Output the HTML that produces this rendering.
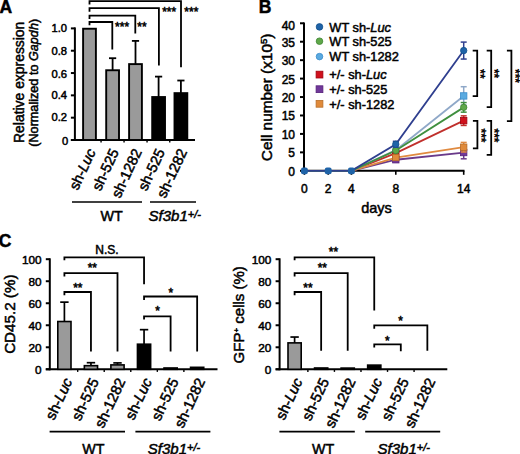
<!DOCTYPE html>
<html><head><meta charset="utf-8"><style>
html,body{margin:0;padding:0;background:#fff;}
svg{display:block;}
text{font-family:"Liberation Sans", sans-serif;fill:#000;stroke:#000;stroke-width:0.5px;}
</style></head><body>
<svg width="520" height="454" viewBox="0 0 520 454">
<rect width="520" height="454" fill="#fff"/>
<text x="-0.60" y="12.70" font-size="17.5" text-anchor="start" font-weight="bold" font-style="normal" >A</text>
<line x1="74.90" y1="27.40" x2="74.90" y2="141.00" stroke="#000" stroke-width="2"/>
<line x1="70.90" y1="140.00" x2="74.90" y2="140.00" stroke="#000" stroke-width="2"/>
<line x1="70.90" y1="117.68" x2="74.90" y2="117.68" stroke="#000" stroke-width="2"/>
<line x1="70.90" y1="95.36" x2="74.90" y2="95.36" stroke="#000" stroke-width="2"/>
<line x1="70.90" y1="73.04" x2="74.90" y2="73.04" stroke="#000" stroke-width="2"/>
<line x1="70.90" y1="50.72" x2="74.90" y2="50.72" stroke="#000" stroke-width="2"/>
<line x1="70.90" y1="28.40" x2="74.90" y2="28.40" stroke="#000" stroke-width="2"/>
<text x="68.30" y="144.80" font-size="11.2" text-anchor="end" font-weight="normal" font-style="normal" >0</text>
<text x="67.00" y="121.18" font-size="11.2" text-anchor="end" font-weight="normal" font-style="normal" >0.2</text>
<text x="67.00" y="99.36" font-size="11.2" text-anchor="end" font-weight="normal" font-style="normal" >0.4</text>
<text x="67.00" y="77.54" font-size="11.2" text-anchor="end" font-weight="normal" font-style="normal" >0.6</text>
<text x="67.00" y="54.72" font-size="11.2" text-anchor="end" font-weight="normal" font-style="normal" >0.8</text>
<text x="67.00" y="32.40" font-size="11.2" text-anchor="end" font-weight="normal" font-style="normal" >1.0</text>
<line x1="70.90" y1="140.00" x2="195.00" y2="140.00" stroke="#000" stroke-width="2"/>
<line x1="101.05" y1="140.00" x2="101.05" y2="142.60" stroke="#000" stroke-width="1.4"/>
<line x1="124.05" y1="140.00" x2="124.05" y2="142.60" stroke="#000" stroke-width="1.4"/>
<line x1="147.05" y1="140.00" x2="147.05" y2="142.60" stroke="#000" stroke-width="1.4"/>
<line x1="169.75" y1="140.00" x2="169.75" y2="142.60" stroke="#000" stroke-width="1.4"/>
<rect x="83.10" y="28.73" width="12.80" height="111.27" fill="#9a9a9a" stroke="#000" stroke-width="1.9"/>
<line x1="112.60" y1="58.20" x2="112.60" y2="70.25" stroke="#000" stroke-width="1.8"/>
<line x1="109.00" y1="58.20" x2="116.20" y2="58.20" stroke="#000" stroke-width="1.8"/>
<rect x="106.20" y="70.25" width="12.80" height="69.75" fill="#9a9a9a" stroke="#000" stroke-width="1.9"/>
<line x1="135.50" y1="40.90" x2="135.50" y2="64.11" stroke="#000" stroke-width="1.8"/>
<line x1="131.90" y1="40.90" x2="139.10" y2="40.90" stroke="#000" stroke-width="1.8"/>
<rect x="129.10" y="64.11" width="12.80" height="75.89" fill="#9a9a9a" stroke="#000" stroke-width="1.9"/>
<line x1="158.60" y1="76.61" x2="158.60" y2="97.03" stroke="#000" stroke-width="1.8"/>
<line x1="155.00" y1="76.61" x2="162.20" y2="76.61" stroke="#000" stroke-width="1.8"/>
<rect x="152.20" y="97.03" width="12.80" height="42.97" fill="#000" stroke="#000" stroke-width="1.9"/>
<line x1="180.90" y1="80.52" x2="180.90" y2="93.13" stroke="#000" stroke-width="1.8"/>
<line x1="177.30" y1="80.52" x2="184.50" y2="80.52" stroke="#000" stroke-width="1.8"/>
<rect x="174.50" y="93.13" width="12.80" height="46.87" fill="#000" stroke="#000" stroke-width="1.9"/>
<path d="M89.50,4.40 V1.20 H181.00 V67.30" stroke="#000" stroke-width="1.8" fill="none" />
<path d="M89.50,11.70 V8.20 H158.90 V65.50" stroke="#000" stroke-width="1.8" fill="none" />
<path d="M89.50,19.00 V15.60 H135.30 V33.50" stroke="#000" stroke-width="1.8" fill="none" />
<path d="M89.50,25.30 V22.00 H112.30 V49.60" stroke="#000" stroke-width="1.8" fill="none" />
<text x="184.30" y="16.00" font-size="12" text-anchor="start" font-weight="normal" font-style="normal" >***</text>
<text x="162.20" y="16.00" font-size="12" text-anchor="start" font-weight="normal" font-style="normal" >***</text>
<text x="137.30" y="30.60" font-size="12" text-anchor="start" font-weight="normal" font-style="normal" >**</text>
<text x="115.10" y="30.60" font-size="12" text-anchor="start" font-weight="normal" font-style="normal" >***</text>
<text transform="translate(24.2,82.3) rotate(-90)" font-size="13.9" text-anchor="middle">Relative expression</text>
<text transform="translate(38.3,82.8) rotate(-90)" font-size="12.65" text-anchor="middle">(Normalized to <tspan font-style="italic">Gapdh</tspan>)</text>
<text transform="translate(96.10,151.60) rotate(-65)" font-size="14.5" text-anchor="end" font-style="normal">sh-<tspan font-style="italic">Luc</tspan></text>
<text transform="translate(119.20,151.60) rotate(-65)" font-size="14.5" text-anchor="end" font-style="normal">sh-525</text>
<text transform="translate(142.10,151.60) rotate(-65)" font-size="14.5" text-anchor="end" font-style="normal">sh-1282</text>
<text transform="translate(165.20,151.60) rotate(-65)" font-size="14.5" text-anchor="end" font-style="normal">sh-525</text>
<text transform="translate(187.50,151.60) rotate(-65)" font-size="14.5" text-anchor="end" font-style="normal">sh-1282</text>
<line x1="72.00" y1="202.00" x2="142.00" y2="202.00" stroke="#000" stroke-width="1.6"/>
<line x1="150.00" y1="202.00" x2="196.00" y2="202.00" stroke="#000" stroke-width="1.6"/>
<text x="111.65" y="221.20" font-size="14.3" text-anchor="middle" font-weight="normal" font-style="normal" >WT</text>
<text x="148.60" y="221.20" font-size="15" text-anchor="start" font-weight="normal" font-style="italic" >Sf3b1<tspan font-size="11" dy="-2.8">+/-</tspan></text>
<text x="258.80" y="12.70" font-size="17.5" text-anchor="start" font-weight="bold" font-style="normal" >B</text>
<line x1="304.00" y1="22.50" x2="304.00" y2="171.80" stroke="#000" stroke-width="2"/>
<line x1="300.00" y1="170.80" x2="304.00" y2="170.80" stroke="#000" stroke-width="2"/>
<text x="295.00" y="175.80" font-size="12" text-anchor="end" font-weight="normal" font-style="normal" >0</text>
<line x1="300.00" y1="152.36" x2="304.00" y2="152.36" stroke="#000" stroke-width="2"/>
<text x="295.00" y="157.36" font-size="12" text-anchor="end" font-weight="normal" font-style="normal" >5</text>
<line x1="300.00" y1="133.92" x2="304.00" y2="133.92" stroke="#000" stroke-width="2"/>
<text x="295.00" y="138.92" font-size="12" text-anchor="end" font-weight="normal" font-style="normal" >10</text>
<line x1="300.00" y1="115.48" x2="304.00" y2="115.48" stroke="#000" stroke-width="2"/>
<text x="295.00" y="120.48" font-size="12" text-anchor="end" font-weight="normal" font-style="normal" >15</text>
<line x1="300.00" y1="97.04" x2="304.00" y2="97.04" stroke="#000" stroke-width="2"/>
<text x="295.00" y="102.04" font-size="12" text-anchor="end" font-weight="normal" font-style="normal" >20</text>
<line x1="300.00" y1="78.60" x2="304.00" y2="78.60" stroke="#000" stroke-width="2"/>
<text x="295.00" y="83.60" font-size="12" text-anchor="end" font-weight="normal" font-style="normal" >25</text>
<line x1="300.00" y1="60.16" x2="304.00" y2="60.16" stroke="#000" stroke-width="2"/>
<text x="295.00" y="65.16" font-size="12" text-anchor="end" font-weight="normal" font-style="normal" >30</text>
<line x1="300.00" y1="41.72" x2="304.00" y2="41.72" stroke="#000" stroke-width="2"/>
<text x="295.00" y="46.72" font-size="12" text-anchor="end" font-weight="normal" font-style="normal" >35</text>
<line x1="300.00" y1="23.28" x2="304.00" y2="23.28" stroke="#000" stroke-width="2"/>
<text x="295.00" y="29.78" font-size="12" text-anchor="end" font-weight="normal" font-style="normal" >40</text>
<line x1="303.00" y1="170.80" x2="464.50" y2="170.80" stroke="#000" stroke-width="2"/>
<line x1="304.40" y1="170.80" x2="304.40" y2="174.80" stroke="#000" stroke-width="1.6"/>
<text x="304.40" y="193.20" font-size="12" text-anchor="middle" font-weight="normal" font-style="normal" >0</text>
<line x1="328.20" y1="170.80" x2="328.20" y2="174.80" stroke="#000" stroke-width="1.6"/>
<text x="328.20" y="193.20" font-size="12" text-anchor="middle" font-weight="normal" font-style="normal" >2</text>
<line x1="351.40" y1="170.80" x2="351.40" y2="174.80" stroke="#000" stroke-width="1.6"/>
<text x="351.40" y="193.20" font-size="12" text-anchor="middle" font-weight="normal" font-style="normal" >4</text>
<line x1="395.80" y1="170.80" x2="395.80" y2="174.80" stroke="#000" stroke-width="1.6"/>
<text x="395.80" y="193.20" font-size="12" text-anchor="middle" font-weight="normal" font-style="normal" >8</text>
<line x1="463.70" y1="170.80" x2="463.70" y2="174.80" stroke="#000" stroke-width="1.6"/>
<text x="463.70" y="193.20" font-size="12" text-anchor="middle" font-weight="normal" font-style="normal" >14</text>
<text x="376.50" y="213.00" font-size="14.5" text-anchor="middle" font-weight="normal" font-style="normal" >days</text>
<text transform="translate(272.0,97.4) rotate(-90)" font-size="15.4" text-anchor="middle">Cell number (x10<tspan font-size="9.5" dy="-5.5">5</tspan><tspan dy="5.5">)</tspan></text>
<polyline points="304.40,170.80 328.20,170.80 351.40,170.80 395.80,159.74 463.70,152.54" fill="none" stroke="#6a3a8a" stroke-width="1.8"/>
<polyline points="304.40,170.80 328.20,170.80 351.40,170.80 395.80,153.10 463.70,120.64" fill="none" stroke="#c0302c" stroke-width="1.8"/>
<polyline points="304.40,170.80 328.20,170.80 351.40,170.80 395.80,157.52 463.70,147.20" fill="none" stroke="#e08a40" stroke-width="1.8"/>
<polyline points="304.40,170.80 328.20,170.80 351.40,170.80 395.80,150.15 463.70,95.93" fill="none" stroke="#8fa8c8" stroke-width="1.8"/>
<polyline points="304.40,170.80 328.20,170.80 351.40,170.80 395.80,150.52 463.70,107.37" fill="none" stroke="#3f8f3f" stroke-width="1.8"/>
<polyline points="304.40,170.80 328.20,170.80 351.40,170.80 395.80,144.25 463.70,50.57" fill="none" stroke="#2f3f8f" stroke-width="1.8"/>
<line x1="395.80" y1="158.63" x2="395.80" y2="160.84" stroke="#6a3a8a" stroke-width="1.5"/>
<line x1="392.80" y1="158.63" x2="398.80" y2="158.63" stroke="#6a3a8a" stroke-width="1.5"/>
<line x1="392.80" y1="160.84" x2="398.80" y2="160.84" stroke="#6a3a8a" stroke-width="1.5"/>
<line x1="463.70" y1="146.27" x2="463.70" y2="158.81" stroke="#6a3a8a" stroke-width="1.5"/>
<line x1="460.70" y1="146.27" x2="466.70" y2="146.27" stroke="#6a3a8a" stroke-width="1.5"/>
<line x1="460.70" y1="158.81" x2="466.70" y2="158.81" stroke="#6a3a8a" stroke-width="1.5"/>
<rect x="392.60" y="156.54" width="6.4" height="6.4" fill="#70389a" stroke="#55207a" stroke-width="0.8"/>
<rect x="460.50" y="149.34" width="6.4" height="6.4" fill="#70389a" stroke="#55207a" stroke-width="0.8"/>
<line x1="395.80" y1="151.62" x2="395.80" y2="154.57" stroke="#c0302c" stroke-width="1.5"/>
<line x1="392.80" y1="151.62" x2="398.80" y2="151.62" stroke="#c0302c" stroke-width="1.5"/>
<line x1="392.80" y1="154.57" x2="398.80" y2="154.57" stroke="#c0302c" stroke-width="1.5"/>
<line x1="463.70" y1="115.85" x2="463.70" y2="125.44" stroke="#c0302c" stroke-width="1.5"/>
<line x1="460.70" y1="115.85" x2="466.70" y2="115.85" stroke="#c0302c" stroke-width="1.5"/>
<line x1="460.70" y1="125.44" x2="466.70" y2="125.44" stroke="#c0302c" stroke-width="1.5"/>
<rect x="392.60" y="149.90" width="6.4" height="6.4" fill="#d0101c" stroke="#a0000e" stroke-width="0.8"/>
<rect x="460.50" y="117.44" width="6.4" height="6.4" fill="#d0101c" stroke="#a0000e" stroke-width="0.8"/>
<line x1="395.80" y1="156.05" x2="395.80" y2="159.00" stroke="#e08a40" stroke-width="1.5"/>
<line x1="392.80" y1="156.05" x2="398.80" y2="156.05" stroke="#e08a40" stroke-width="1.5"/>
<line x1="392.80" y1="159.00" x2="398.80" y2="159.00" stroke="#e08a40" stroke-width="1.5"/>
<line x1="463.70" y1="142.40" x2="463.70" y2="151.99" stroke="#e08a40" stroke-width="1.5"/>
<line x1="460.70" y1="142.40" x2="466.70" y2="142.40" stroke="#e08a40" stroke-width="1.5"/>
<line x1="460.70" y1="151.99" x2="466.70" y2="151.99" stroke="#e08a40" stroke-width="1.5"/>
<rect x="392.60" y="154.32" width="6.4" height="6.4" fill="#e08a3a" stroke="#b86e28" stroke-width="0.8"/>
<rect x="460.50" y="144.00" width="6.4" height="6.4" fill="#e08a3a" stroke="#b86e28" stroke-width="0.8"/>
<line x1="395.80" y1="148.30" x2="395.80" y2="151.99" stroke="#8fa8c8" stroke-width="1.5"/>
<line x1="392.80" y1="148.30" x2="398.80" y2="148.30" stroke="#8fa8c8" stroke-width="1.5"/>
<line x1="392.80" y1="151.99" x2="398.80" y2="151.99" stroke="#8fa8c8" stroke-width="1.5"/>
<line x1="463.70" y1="86.71" x2="463.70" y2="105.15" stroke="#8fa8c8" stroke-width="1.5"/>
<line x1="460.70" y1="86.71" x2="466.70" y2="86.71" stroke="#8fa8c8" stroke-width="1.5"/>
<line x1="460.70" y1="105.15" x2="466.70" y2="105.15" stroke="#8fa8c8" stroke-width="1.5"/>
<circle cx="395.80" cy="150.15" r="3.2" fill="#5aaae0" stroke="#3a8ccc" stroke-width="0.8"/>
<rect x="460.50" y="92.73" width="6.4" height="6.4" fill="#5aaae0" stroke="#3a8ccc" stroke-width="0.8"/>
<line x1="395.80" y1="148.67" x2="395.80" y2="152.36" stroke="#3f8f3f" stroke-width="1.5"/>
<line x1="392.80" y1="148.67" x2="398.80" y2="148.67" stroke="#3f8f3f" stroke-width="1.5"/>
<line x1="392.80" y1="152.36" x2="398.80" y2="152.36" stroke="#3f8f3f" stroke-width="1.5"/>
<line x1="463.70" y1="102.57" x2="463.70" y2="112.16" stroke="#3f8f3f" stroke-width="1.5"/>
<line x1="460.70" y1="102.57" x2="466.70" y2="102.57" stroke="#3f8f3f" stroke-width="1.5"/>
<line x1="460.70" y1="112.16" x2="466.70" y2="112.16" stroke="#3f8f3f" stroke-width="1.5"/>
<circle cx="395.80" cy="150.52" r="3.2" fill="#5fa84a" stroke="#3f8532" stroke-width="0.8"/>
<circle cx="463.70" cy="107.37" r="3.2" fill="#5fa84a" stroke="#3f8532" stroke-width="0.8"/>
<line x1="395.80" y1="141.30" x2="395.80" y2="147.20" stroke="#2f3f8f" stroke-width="1.5"/>
<line x1="392.80" y1="141.30" x2="398.80" y2="141.30" stroke="#2f3f8f" stroke-width="1.5"/>
<line x1="392.80" y1="147.20" x2="398.80" y2="147.20" stroke="#2f3f8f" stroke-width="1.5"/>
<line x1="463.70" y1="42.09" x2="463.70" y2="59.05" stroke="#2f3f8f" stroke-width="1.5"/>
<line x1="460.70" y1="42.09" x2="466.70" y2="42.09" stroke="#2f3f8f" stroke-width="1.5"/>
<line x1="460.70" y1="59.05" x2="466.70" y2="59.05" stroke="#2f3f8f" stroke-width="1.5"/>
<rect x="301.00" y="167.40" width="6.8" height="6.8" rx="2" fill="#1f63a8"/>
<rect x="324.80" y="167.40" width="6.8" height="6.8" rx="2" fill="#1f63a8"/>
<rect x="348.00" y="167.40" width="6.8" height="6.8" rx="2" fill="#1f63a8"/>
<circle cx="395.80" cy="144.25" r="3.2" fill="#1f63a8" stroke="#12508c" stroke-width="0.8"/>
<circle cx="463.70" cy="50.57" r="3.2" fill="#1f63a8" stroke="#12508c" stroke-width="0.8"/>
<circle cx="319.5" cy="26.90" r="3.3" fill="#1f63a8" stroke="#12508c" stroke-width="0.8"/>
<text x="329.30" y="31.70" font-size="12.8" text-anchor="start" font-weight="normal" font-style="normal" >WT sh-<tspan font-style="italic">Luc</tspan></text>
<circle cx="319.5" cy="41.20" r="3.3" fill="#5fa84a" stroke="#3f8532" stroke-width="0.8"/>
<text x="329.30" y="46.00" font-size="12.8" text-anchor="start" font-weight="normal" font-style="normal" >WT sh-525</text>
<circle cx="319.5" cy="56.60" r="3.3" fill="#5aaae0" stroke="#3a8ccc" stroke-width="0.8"/>
<text x="329.30" y="61.40" font-size="12.8" text-anchor="start" font-weight="normal" font-style="normal" >WT sh-1282</text>
<rect x="316.1" y="71.20" width="6.8" height="6.8" fill="#d0101c" stroke="#a0000e" stroke-width="0.8"/>
<text x="329.30" y="79.40" font-size="12.8" text-anchor="start" font-weight="normal" font-style="normal" >+/- sh-<tspan font-style="italic">Luc</tspan></text>
<rect x="316.1" y="85.80" width="6.8" height="6.8" fill="#70389a" stroke="#55207a" stroke-width="0.8"/>
<text x="329.30" y="94.00" font-size="12.8" text-anchor="start" font-weight="normal" font-style="normal" >+/- sh-525</text>
<rect x="316.1" y="100.40" width="6.8" height="6.8" fill="#e08a3a" stroke="#b86e28" stroke-width="0.8"/>
<text x="329.30" y="108.60" font-size="12.8" text-anchor="start" font-weight="normal" font-style="normal" >+/- sh-1282</text>
<path d="M472.70,50.60 H477.20 V96.10 H472.70" stroke="#000" stroke-width="1.8" fill="none" />
<path d="M486.70,50.60 H491.20 V107.20 H486.70" stroke="#000" stroke-width="1.8" fill="none" />
<path d="M506.90,50.60 H511.40 V121.20 H506.90" stroke="#000" stroke-width="1.8" fill="none" />
<path d="M472.90,120.90 H477.40 V148.40 H472.90" stroke="#000" stroke-width="1.8" fill="none" />
<path d="M486.70,120.90 H491.20 V154.90 H486.70" stroke="#000" stroke-width="1.8" fill="none" />
<text transform="translate(476.30,74.00) rotate(90)" font-size="12" text-anchor="middle">**</text>
<text transform="translate(490.00,73.60) rotate(90)" font-size="12" text-anchor="middle">**</text>
<text transform="translate(510.80,76.00) rotate(90)" font-size="12" text-anchor="middle">***</text>
<text transform="translate(476.80,135.50) rotate(90)" font-size="12" text-anchor="middle">***</text>
<text transform="translate(490.40,135.50) rotate(90)" font-size="12" text-anchor="middle">***</text>
<text x="-1.20" y="247.30" font-size="17.5" text-anchor="start" font-weight="bold" font-style="normal" >C</text>
<line x1="49.80" y1="258.30" x2="49.80" y2="370.30" stroke="#000" stroke-width="2"/>
<line x1="45.80" y1="369.30" x2="49.80" y2="369.30" stroke="#000" stroke-width="2"/>
<text x="41.60" y="373.90" font-size="11.8" text-anchor="end" font-weight="normal" font-style="normal" >0</text>
<line x1="45.80" y1="347.28" x2="49.80" y2="347.28" stroke="#000" stroke-width="2"/>
<text x="41.60" y="351.88" font-size="11.8" text-anchor="end" font-weight="normal" font-style="normal" >20</text>
<line x1="45.80" y1="325.26" x2="49.80" y2="325.26" stroke="#000" stroke-width="2"/>
<text x="41.60" y="329.86" font-size="11.8" text-anchor="end" font-weight="normal" font-style="normal" >40</text>
<line x1="45.80" y1="303.24" x2="49.80" y2="303.24" stroke="#000" stroke-width="2"/>
<text x="41.60" y="307.84" font-size="11.8" text-anchor="end" font-weight="normal" font-style="normal" >60</text>
<line x1="45.80" y1="281.22" x2="49.80" y2="281.22" stroke="#000" stroke-width="2"/>
<text x="41.60" y="285.82" font-size="11.8" text-anchor="end" font-weight="normal" font-style="normal" >80</text>
<line x1="45.80" y1="259.20" x2="49.80" y2="259.20" stroke="#000" stroke-width="2"/>
<text x="41.60" y="263.80" font-size="11.8" text-anchor="end" font-weight="normal" font-style="normal" >100</text>
<line x1="45.80" y1="369.30" x2="217.50" y2="369.30" stroke="#000" stroke-width="2"/>
<line x1="77.68" y1="369.30" x2="77.68" y2="371.90" stroke="#000" stroke-width="1.4"/>
<line x1="104.22" y1="369.30" x2="104.22" y2="371.90" stroke="#000" stroke-width="1.4"/>
<line x1="130.78" y1="369.30" x2="130.78" y2="371.90" stroke="#000" stroke-width="1.4"/>
<line x1="157.33" y1="369.30" x2="157.33" y2="371.90" stroke="#000" stroke-width="1.4"/>
<line x1="183.88" y1="369.30" x2="183.88" y2="371.90" stroke="#000" stroke-width="1.4"/>
<line x1="64.40" y1="302.14" x2="64.40" y2="321.52" stroke="#000" stroke-width="1.7"/>
<line x1="60.20" y1="302.14" x2="68.60" y2="302.14" stroke="#000" stroke-width="1.7"/>
<rect x="57.80" y="321.52" width="13.20" height="47.78" fill="#9a9a9a" stroke="#000" stroke-width="1.6"/>
<line x1="90.95" y1="362.69" x2="90.95" y2="365.67" stroke="#000" stroke-width="1.7"/>
<line x1="86.75" y1="362.69" x2="95.15" y2="362.69" stroke="#000" stroke-width="1.7"/>
<rect x="84.35" y="365.67" width="13.20" height="3.63" fill="#9a9a9a" stroke="#000" stroke-width="1.6"/>
<line x1="117.50" y1="362.91" x2="117.50" y2="364.90" stroke="#000" stroke-width="1.7"/>
<line x1="113.30" y1="362.91" x2="121.70" y2="362.91" stroke="#000" stroke-width="1.7"/>
<rect x="110.90" y="364.90" width="13.20" height="4.40" fill="#9a9a9a" stroke="#000" stroke-width="1.6"/>
<line x1="144.05" y1="329.66" x2="144.05" y2="344.20" stroke="#000" stroke-width="1.7"/>
<line x1="139.85" y1="329.66" x2="148.25" y2="329.66" stroke="#000" stroke-width="1.7"/>
<rect x="137.45" y="344.20" width="13.20" height="25.10" fill="#000" stroke="#000" stroke-width="1.6"/>
<rect x="164.00" y="367.98" width="13.20" height="1.32" fill="#000" stroke="#000" stroke-width="1.6"/>
<rect x="190.55" y="367.32" width="13.20" height="1.98" fill="#000" stroke="#000" stroke-width="1.6"/>
<text transform="translate(72.70,381.00) rotate(-65)" font-size="14.7" text-anchor="end" font-style="normal">sh-<tspan font-style="italic">Luc</tspan></text>
<text transform="translate(99.25,381.00) rotate(-65)" font-size="14.7" text-anchor="end" font-style="normal">sh-525</text>
<text transform="translate(125.80,381.00) rotate(-65)" font-size="14.7" text-anchor="end" font-style="normal">sh-1282</text>
<text transform="translate(152.35,381.00) rotate(-65)" font-size="14.7" text-anchor="end" font-style="normal">sh-<tspan font-style="italic">Luc</tspan></text>
<text transform="translate(178.90,381.00) rotate(-65)" font-size="14.7" text-anchor="end" font-style="normal">sh-525</text>
<text transform="translate(205.45,381.00) rotate(-65)" font-size="14.7" text-anchor="end" font-style="normal">sh-1282</text>
<line x1="49.60" y1="431.60" x2="125.00" y2="431.60" stroke="#000" stroke-width="1.6"/>
<line x1="135.40" y1="431.60" x2="210.40" y2="431.60" stroke="#000" stroke-width="1.6"/>
<text x="93.30" y="453.60" font-size="14.3" text-anchor="middle" font-weight="normal" font-style="normal" >WT</text>
<text x="147.80" y="453.60" font-size="15" text-anchor="start" font-weight="normal" font-style="italic" >Sf3b1<tspan font-size="11" dy="-2.8">+/-</tspan></text>
<text transform="translate(15.2,314.2) rotate(-90)" font-size="15.2" text-anchor="middle">CD45.2 (%)</text>
<path d="M64.40,260.20 V257.30 H144.05 V284.20" stroke="#000" stroke-width="1.8" fill="none" />
<path d="M64.40,276.50 V273.10 H117.50 V351.60" stroke="#000" stroke-width="1.8" fill="none" />
<path d="M64.40,295.20 V292.00 H90.95 V351.60" stroke="#000" stroke-width="1.8" fill="none" />
<path d="M144.05,300.00 V296.50 H197.15 V351.60" stroke="#000" stroke-width="1.8" fill="none" />
<path d="M144.05,319.60 V316.30 H170.60 V351.60" stroke="#000" stroke-width="1.8" fill="none" />
<text x="107.00" y="253.50" font-size="12" text-anchor="middle" font-weight="normal" font-style="normal" >N.S.</text>
<text x="92.30" y="272.20" font-size="12" text-anchor="middle" font-weight="normal" font-style="normal" >**</text>
<text x="77.80" y="292.00" font-size="12" text-anchor="middle" font-weight="normal" font-style="normal" >**</text>
<text x="170.80" y="296.50" font-size="12" text-anchor="middle" font-weight="normal" font-style="normal" >*</text>
<text x="157.50" y="315.00" font-size="12" text-anchor="middle" font-weight="normal" font-style="normal" >*</text>
<line x1="279.60" y1="258.30" x2="279.60" y2="370.30" stroke="#000" stroke-width="2"/>
<line x1="275.60" y1="369.30" x2="279.60" y2="369.30" stroke="#000" stroke-width="2"/>
<text x="271.40" y="373.90" font-size="11.8" text-anchor="end" font-weight="normal" font-style="normal" >0</text>
<line x1="275.60" y1="347.28" x2="279.60" y2="347.28" stroke="#000" stroke-width="2"/>
<text x="271.40" y="351.88" font-size="11.8" text-anchor="end" font-weight="normal" font-style="normal" >20</text>
<line x1="275.60" y1="325.26" x2="279.60" y2="325.26" stroke="#000" stroke-width="2"/>
<text x="271.40" y="329.86" font-size="11.8" text-anchor="end" font-weight="normal" font-style="normal" >40</text>
<line x1="275.60" y1="303.24" x2="279.60" y2="303.24" stroke="#000" stroke-width="2"/>
<text x="271.40" y="307.84" font-size="11.8" text-anchor="end" font-weight="normal" font-style="normal" >60</text>
<line x1="275.60" y1="281.22" x2="279.60" y2="281.22" stroke="#000" stroke-width="2"/>
<text x="271.40" y="285.82" font-size="11.8" text-anchor="end" font-weight="normal" font-style="normal" >80</text>
<line x1="275.60" y1="259.20" x2="279.60" y2="259.20" stroke="#000" stroke-width="2"/>
<text x="271.40" y="263.80" font-size="11.8" text-anchor="end" font-weight="normal" font-style="normal" >100</text>
<line x1="275.60" y1="369.30" x2="447.30" y2="369.30" stroke="#000" stroke-width="2"/>
<line x1="307.88" y1="369.30" x2="307.88" y2="371.90" stroke="#000" stroke-width="1.4"/>
<line x1="334.43" y1="369.30" x2="334.43" y2="371.90" stroke="#000" stroke-width="1.4"/>
<line x1="360.98" y1="369.30" x2="360.98" y2="371.90" stroke="#000" stroke-width="1.4"/>
<line x1="387.52" y1="369.30" x2="387.52" y2="371.90" stroke="#000" stroke-width="1.4"/>
<line x1="414.08" y1="369.30" x2="414.08" y2="371.90" stroke="#000" stroke-width="1.4"/>
<line x1="294.60" y1="337.04" x2="294.60" y2="342.88" stroke="#000" stroke-width="1.7"/>
<line x1="290.40" y1="337.04" x2="298.80" y2="337.04" stroke="#000" stroke-width="1.7"/>
<rect x="288.00" y="342.88" width="13.20" height="26.42" fill="#9a9a9a" stroke="#000" stroke-width="1.6"/>
<rect x="314.55" y="367.98" width="13.20" height="1.32" fill="#9a9a9a" stroke="#000" stroke-width="1.6"/>
<rect x="341.10" y="368.09" width="13.20" height="1.21" fill="#9a9a9a" stroke="#000" stroke-width="1.6"/>
<rect x="367.65" y="365.12" width="13.20" height="4.18" fill="#000" stroke="#000" stroke-width="1.6"/>
<rect x="394.20" y="369.30" width="13.20" height="0.00" fill="#000" stroke="#000" stroke-width="1.6"/>
<rect x="420.75" y="369.30" width="13.20" height="0.00" fill="#000" stroke="#000" stroke-width="1.6"/>
<text transform="translate(302.90,381.00) rotate(-65)" font-size="14.7" text-anchor="end" font-style="normal">sh-<tspan font-style="italic">Luc</tspan></text>
<text transform="translate(329.45,381.00) rotate(-65)" font-size="14.7" text-anchor="end" font-style="normal">sh-525</text>
<text transform="translate(356.00,381.00) rotate(-65)" font-size="14.7" text-anchor="end" font-style="normal">sh-1282</text>
<text transform="translate(382.55,381.00) rotate(-65)" font-size="14.7" text-anchor="end" font-style="normal">sh-<tspan font-style="italic">Luc</tspan></text>
<text transform="translate(409.10,381.00) rotate(-65)" font-size="14.7" text-anchor="end" font-style="normal">sh-525</text>
<text transform="translate(435.65,381.00) rotate(-65)" font-size="14.7" text-anchor="end" font-style="normal">sh-1282</text>
<line x1="279.40" y1="431.60" x2="354.80" y2="431.60" stroke="#000" stroke-width="1.6"/>
<line x1="365.20" y1="431.60" x2="440.20" y2="431.60" stroke="#000" stroke-width="1.6"/>
<text x="323.10" y="453.60" font-size="14.3" text-anchor="middle" font-weight="normal" font-style="normal" >WT</text>
<text x="377.60" y="453.60" font-size="15" text-anchor="start" font-weight="normal" font-style="italic" >Sf3b1<tspan font-size="11" dy="-2.8">+/-</tspan></text>
<text transform="translate(244.0,314.8) rotate(-90)" font-size="15" text-anchor="middle">GFP<tspan font-size="8" dy="-5.5">+</tspan><tspan dy="5.5"> cells (%)</tspan></text>
<path d="M294.60,260.20 V257.30 H374.25 V310.40" stroke="#000" stroke-width="1.8" fill="none" />
<path d="M294.60,276.50 V273.10 H347.70 V350.80" stroke="#000" stroke-width="1.8" fill="none" />
<path d="M294.60,295.20 V292.00 H321.15 V350.80" stroke="#000" stroke-width="1.8" fill="none" />
<path d="M374.25,328.80 V325.40 H427.35 V350.80" stroke="#000" stroke-width="1.8" fill="none" />
<path d="M374.25,347.60 V344.30 H400.80 V351.20" stroke="#000" stroke-width="1.8" fill="none" />
<text x="333.40" y="256.00" font-size="12" text-anchor="middle" font-weight="normal" font-style="normal" >**</text>
<text x="322.30" y="272.00" font-size="12" text-anchor="middle" font-weight="normal" font-style="normal" >**</text>
<text x="307.90" y="291.60" font-size="12" text-anchor="middle" font-weight="normal" font-style="normal" >**</text>
<text x="400.50" y="325.00" font-size="12" text-anchor="middle" font-weight="normal" font-style="normal" >*</text>
<text x="387.30" y="344.50" font-size="12" text-anchor="middle" font-weight="normal" font-style="normal" >*</text>
</svg>
</body></html>
